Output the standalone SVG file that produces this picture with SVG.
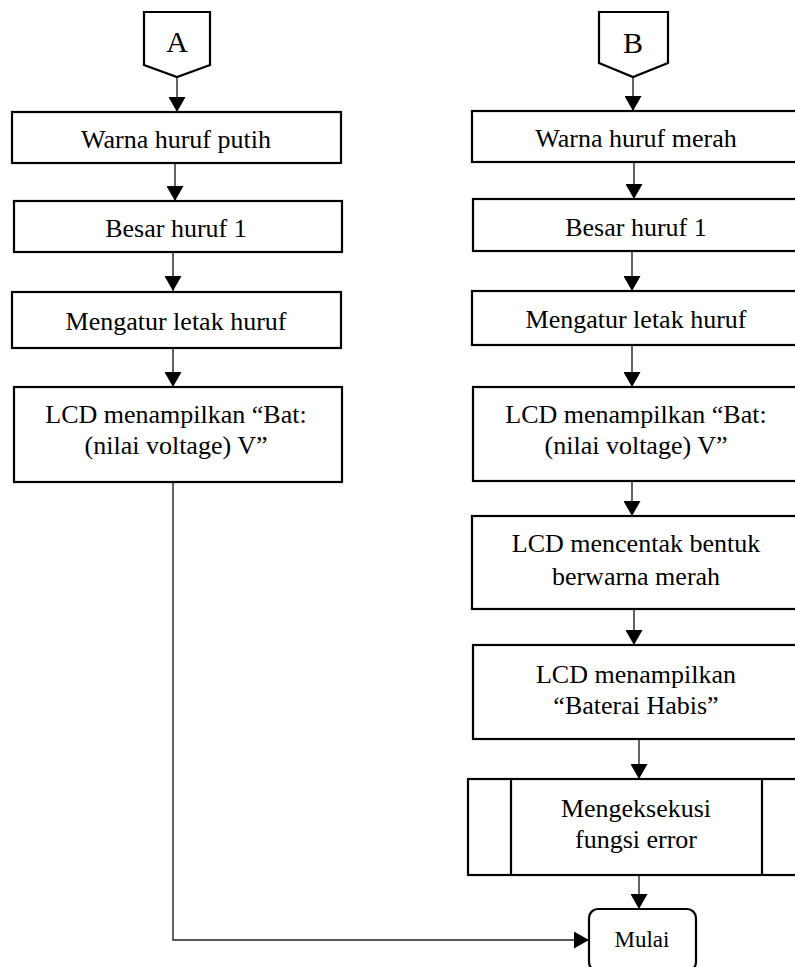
<svg xmlns="http://www.w3.org/2000/svg" width="795" height="967" viewBox="0 0 795 967">
<style>
.box{fill:#fff;stroke:#000;stroke-width:2.2}
.t{font-family:"Liberation Serif","Times New Roman",serif;font-size:26px;fill:#000;text-anchor:middle}
.big{font-size:30px}
.sm{font-size:23px}
.c{fill:none;stroke:#222;stroke-width:1.4}
</style>
<defs>
<marker id="ah" markerUnits="userSpaceOnUse" viewBox="0 0 15 17" refX="15" refY="8.5" markerWidth="15" markerHeight="17" orient="auto">
<path d="M0,0 L15,8.5 L0,17 Z" fill="#000"/>
</marker>
</defs>
<rect width="795" height="967" fill="#fff"/>
<g id="connectors">
<line class="c" x1="177" y1="77" x2="177" y2="112" marker-end="url(#ah)"/>
<line class="c" x1="175" y1="164" x2="175" y2="201" marker-end="url(#ah)"/>
<line class="c" x1="173" y1="252" x2="173" y2="291" marker-end="url(#ah)"/>
<line class="c" x1="173" y1="348" x2="173" y2="387" marker-end="url(#ah)"/>
<polyline class="c" points="173,482 173,940 589,940" marker-end="url(#ah)"/>
<line class="c" x1="633" y1="77" x2="633" y2="111" marker-end="url(#ah)"/>
<line class="c" x1="634" y1="162" x2="634" y2="199" marker-end="url(#ah)"/>
<line class="c" x1="632" y1="251" x2="632" y2="291" marker-end="url(#ah)"/>
<line class="c" x1="632" y1="345" x2="632" y2="387" marker-end="url(#ah)"/>
<line class="c" x1="632" y1="481" x2="632" y2="516" marker-end="url(#ah)"/>
<line class="c" x1="634" y1="609" x2="634" y2="645" marker-end="url(#ah)"/>
<line class="c" x1="639" y1="739" x2="639" y2="779" marker-end="url(#ah)"/>
<line class="c" x1="639" y1="875" x2="639" y2="909" marker-end="url(#ah)"/>
</g>
<g id="nodeA">
<polygon class="box" points="144,12 210,12 210,65 177,77 144,65"/>
<text class="t big" x="177" y="52">A</text>
</g>
<g id="nodeB">
<polygon class="box" points="599,12 668,12 668,63 633,77 599,63"/>
<text class="t big" x="633" y="53">B</text>
</g>
<g id="L1">
<rect class="box" x="12" y="112" width="329" height="51"/>
<text class="t" x="176" y="148">Warna huruf putih</text>
</g>
<g id="L2">
<rect class="box" x="14" y="201" width="328" height="51"/>
<text class="t" x="176" y="237">Besar huruf 1</text>
</g>
<g id="L3">
<rect class="box" x="12" y="292" width="329" height="56"/>
<text class="t" x="176" y="330">Mengatur letak huruf</text>
</g>
<g id="L4">
<rect class="box" x="14" y="387" width="328" height="95"/>
<text class="t" x="176" y="423">LCD menampilkan “Bat:</text>
<text class="t" x="176" y="454">(nilai voltage) V”</text>
</g>
<g id="R1">
<rect class="box" x="472" y="111" width="330" height="51"/>
<text class="t" x="636" y="147">Warna huruf merah</text>
</g>
<g id="R2">
<rect class="box" x="473" y="199" width="330" height="52"/>
<text class="t" x="636" y="236">Besar huruf 1</text>
</g>
<g id="R3">
<rect class="box" x="472" y="291" width="330" height="54"/>
<text class="t" x="636" y="328">Mengatur letak huruf</text>
</g>
<g id="R4">
<rect class="box" x="473" y="387" width="330" height="94"/>
<text class="t" x="636" y="423">LCD menampilkan “Bat:</text>
<text class="t" x="636" y="454">(nilai voltage) V”</text>
</g>
<g id="R5">
<rect class="box" x="472" y="516" width="330" height="93"/>
<text class="t" x="636" y="552">LCD mencentak bentuk</text>
<text class="t" x="636" y="585">berwarna merah</text>
</g>
<g id="R6">
<rect class="box" x="473" y="645" width="330" height="94"/>
<text class="t" x="636" y="683">LCD menampilkan</text>
<text class="t" x="636" y="714">“Baterai Habis”</text>
</g>
<g id="R7">
<rect class="box" x="468" y="779" width="334" height="96"/>
<line class="box" x1="511" y1="779" x2="511" y2="875"/>
<line class="box" x1="762" y1="779" x2="762" y2="875"/>
<text class="t" x="636" y="817">Mengeksekusi</text>
<text class="t" x="636" y="848">fungsi error</text>
</g>
<g id="mulai">
<rect class="box" x="589" y="909" width="107" height="62" rx="9" ry="9"/>
<text class="t sm" x="642" y="947">Mulai</text>
</g>
</svg>
